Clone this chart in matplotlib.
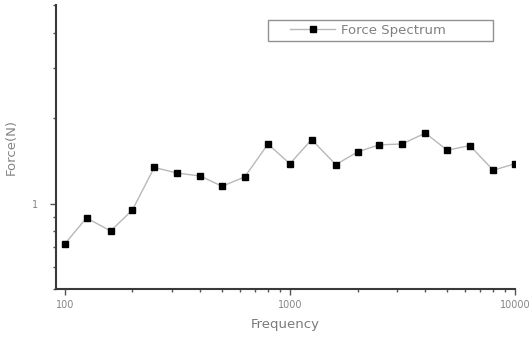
import numpy as np
import matplotlib.pyplot as plt
from matplotlib.ticker import LogLocator, NullFormatter, FixedLocator, FixedFormatter
from matplotlib.legend_handler import HandlerLine2D

# third-octave centre frequencies and force
freq = [100, 125, 160, 200, 250, 315, 400, 500, 630, 800, 1000,
        1250, 1600, 2000, 2500, 3150, 4000, 5000, 6300, 8000, 10000]
force = [0.72, 0.89, 0.80, 0.95, 1.34, 1.28, 1.25, 1.15, 1.24, 1.62, 1.38,
         1.68, 1.37, 1.52, 1.61, 1.62, 1.77, 1.54, 1.60, 1.31, 1.38]
series_name = "Force Spectrum"
x_label = "Frequency"
y_label = "Force(N)"

txt = "#858585"
plt.rcParams['font.family'] = ['DejaVu Sans']

fig = plt.figure(figsize=(5.32, 3.37), dpi=100)
# axes box: x 56..515 px, y 5..289 px
ax = fig.add_axes([56 / 532, 48 / 337, 459 / 532, 284 / 337])

line, = ax.plot(freq, force, color="#b8b8b8", lw=1.0, marker="s", ms=4.6,
                mfc="black", mec="black", label=series_name)

ax.set_xscale("log")
ax.set_yscale("log")
ax.set_xlim(91.5, 10000)
ax.set_ylim(0.5, 5)

ax.xaxis.set_major_locator(FixedLocator([100, 1000, 10000]))
ax.xaxis.set_major_formatter(FixedFormatter(["100", "1000", "10000"]))
ax.xaxis.set_minor_locator(LogLocator(base=10, subs=np.arange(2, 10)))
ax.xaxis.set_minor_formatter(NullFormatter())
ax.yaxis.set_major_locator(FixedLocator([1]))
ax.yaxis.set_major_formatter(FixedFormatter(["1"]))
ax.yaxis.set_minor_locator(LogLocator(base=10, subs=np.arange(2, 10)))
ax.yaxis.set_minor_formatter(NullFormatter())

for s in ["top", "right"]:
    ax.spines[s].set_visible(False)
for s in ["left", "bottom"]:
    ax.spines[s].set_color("#3a3a3a")
    ax.spines[s].set_linewidth(1.5)

ax.tick_params(which="major", length=4, width=1, color="#555555",
               labelsize=7, labelcolor=txt)
ax.tick_params(axis="x", which="major", pad=4)
ax.tick_params(axis="y", which="major", pad=9)
ax.tick_params(which="minor", length=2.5, width=1, color="#555555")

ax.set_xlabel(x_label, fontsize=9.5, color="#7a7a7a", labelpad=6)
ax.set_ylabel(y_label, fontsize=9.5, color="#858585", labelpad=10)

# legend box: x 268..493 px, y 20..43 px
lx0 = (268 - 56) / 459
lw = (493 - 268) / 459
ly1 = (289 - 20) / 284
lh = (43 - 20) / 284
leg = ax.legend(loc="upper left", bbox_to_anchor=(lx0, ly1 - lh, lw, lh),
                mode="expand", borderaxespad=0, fontsize=9.5, frameon=True,
                fancybox=False, handlelength=4.8, handletextpad=0.4,
                borderpad=0.3, labelcolor="#808080",
                handler_map={line: HandlerLine2D(xpad=1.4)})
leg.get_frame().set_edgecolor("#777777")
leg.get_frame().set_linewidth(1.0)

fig.savefig("out.png", dpi=100)
